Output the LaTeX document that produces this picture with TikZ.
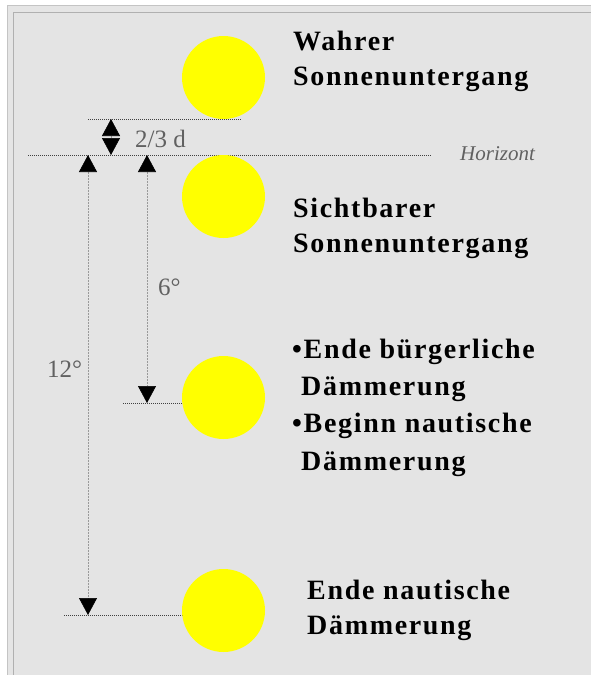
\documentclass[tikz,border=0pt]{standalone}
\usepackage{fontspec}
\setmainfont{Liberation Serif}
\usepackage{tikz}
\usetikzlibrary{arrows.meta, positioning}
\definecolor{panel}{RGB}{228,228,228}
\definecolor{frameline}{RGB}{196,196,196}
\definecolor{sunyellow}{RGB}{255,255,0}
\tikzstyle{sun} = [circle, fill=sunyellow, minimum size=83pt, inner sep=0pt]
\tikzstyle{caption} = [anchor=base west, inner sep=0pt, align=left, font=\fontsize{28}{35}\selectfont\bfseries\addfontfeature{LetterSpace=6}]
\tikzstyle{dimlabel} = [anchor=base west, inner sep=0pt, text=black!62, font=\fontsize{25}{30}\selectfont]
\tikzstyle{level} = [black!75, line width=0.6pt, dash pattern=on 1pt off 1pt]
\tikzstyle{dim} = [black!40, line width=0.6pt, dash pattern=on 2pt off 1pt, {Triangle[width=18pt,length=17pt,color=black]}-{Triangle[width=18pt,length=17pt,color=black]}]

\begin{document}
\begin{tikzpicture}[x=1pt, y=-1pt]
		\useasboundingbox (0,0) rectangle (591,675);
		\fill[white] (0,0) rectangle (591,675);
		\filldraw[fill=panel!95!white, draw=frameline] (7,5) rectangle (600,690);
		\filldraw[fill=panel, draw=frameline!90!black] (13,12) rectangle (600,690);
		
		\coordinate (topL) at (88,119);
		\coordinate (topR) at (241,119);
		\coordinate (horL) at (28,155);
		\coordinate (horR) at (431,155);
		\coordinate (civL) at (123,403);
		\coordinate (civR) at (183,403);
		\coordinate (nauL) at (64,615);
		\coordinate (nauR) at (183,615);
		
		\draw[level] (topL) -- (topR);
		\draw[level] (horL) -- (horR);
		\draw[level] (civL) -- (civR);
		\draw[level] (nauL) -- (nauR);
		
		\node [sun] (sunTrue) at (223.5,77.5) {};
		\node [sun] (sunSeen) at (223.5,196.5) {};
		\node [sun] (sunCivil) at (223.5,397.5) {};
		\node [sun] (sunNaut) at (223.5,610.5) {};
		
		% base anchor sits on the last line
		\node [caption] (trueTxt) at (293,85) {Wahrer\\Sonnenuntergang};
		\node [caption] (seenTxt) at (293,252) {Sichtbarer\\Sonnenuntergang};
		\node [caption, font=\fontsize{28}{37.3}\selectfont\bfseries\addfontfeature{LetterSpace=6}] (civilTxt) at (292,470) {\textbullet Ende bürgerliche\\\hspace*{9pt}Dämmerung\\\textbullet Beginn nautische\\\hspace*{9pt}Dämmerung};
		\node [caption] (nautTxt) at (307,634) {Ende nautische\\Dämmerung};
		
		\node [dimlabel, font=\fontsize{21}{25}\selectfont\itshape] (horTxt) at (460,160) {Horizont};
		\node [dimlabel] (dTxt) at (135,147) {2/3 d};
		\node [dimlabel] (sixTxt) at (158,295) {6°};
		\node [dimlabel] (twelveTxt) at (47,377) {12°};
		
		\coordinate (dTop) at (111,119);
		\coordinate (dBot) at (111,155);
		\coordinate (sixTop) at (147,155);
		\coordinate (sixBot) at (147,403);
		\coordinate (twelveTop) at (88,155);
		\coordinate (twelveBot) at (88,615);
		
		\draw[dim] (dTop) -- (dBot);
		\draw[dim] (sixTop) -- (sixBot);
		\draw[dim] (twelveTop) -- (twelveBot);
		
	\end{tikzpicture}
\end{document}
